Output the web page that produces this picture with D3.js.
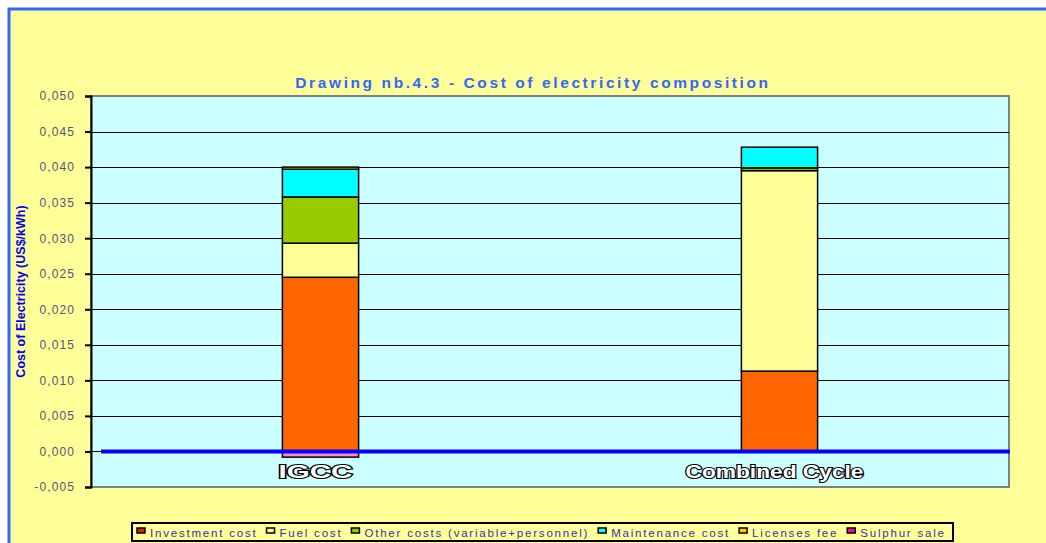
<!DOCTYPE html>
<html>
<head>
<meta charset="utf-8">
<script src="https://cdn.jsdelivr.net/npm/d3@7"></script>
<style>
  body { margin: 0; background: #fff; }
  svg { display: block; font-family: "Liberation Sans", Arial, sans-serif; }
</style>
</head>
<body>
<svg id="chart" width="1046" height="543"></svg>
<script>
// chart data
const categories = ["IGCC", "Combined Cycle"];
const seriesNames = ["Investment cost", "Fuel cost", "Other costs (variable+personnel)",
                     "Maintenance cost", "Licenses fee", "Sulphur sale"];
const investment  = [0.0245, 0.0113];
const fuel        = [0.0048, 0.0282];
const other       = [0.0065, 0.0004];
const maintenance = [0.0039, 0.0029];
const licenses    = [0.0003, 0.0000];
const sulphur     = [-0.0008, 0.0000];
const yTicks = [-0.005, 0, 0.005, 0.01, 0.015, 0.02, 0.025, 0.03, 0.035, 0.04, 0.045, 0.05];

const colors = ["#FF6600", "#FFFF99", "#99CC00", "#00FFFF", "#FFCC00", "#FF88CC"];
const legendColors = ["#DD2200", "#FFFF99", "#99CC00", "#00FFFF", "#FFCC00", "#EE1199"];

const plot = {left: 91, right: 1009, top: 96, bottom: 487};

const svg = d3.select("#chart");

// yellow page with blue frame
svg.append("rect").attr("x", 9).attr("y", 9).attr("width", 1046).attr("height", 543)
    .attr("fill", "#FFFF99");
svg.append("path").attr("d", "M 9,543 V 9 H 1046")
    .attr("fill", "none").attr("stroke", "#3366FF").attr("stroke-width", 3);

// title
svg.append("text")
    .attr("x", 533).attr("y", 88)
    .attr("text-anchor", "middle")
    .attr("font-size", 15.5).attr("font-weight", "bold")
    .attr("letter-spacing", 2.6)
    .attr("fill", "#3366FF")
    .text("Drawing nb.4.3 - Cost of electricity composition");

const y = d3.scaleLinear().domain([-0.005, 0.05]).range([plot.bottom, plot.top]);
const x = d3.scaleBand().domain(categories).range([plot.left, plot.right]).padding(0);
const barW = x.bandwidth() * 0.166;

// plot background
svg.append("rect")
    .attr("x", plot.left).attr("y", plot.top)
    .attr("width", plot.right - plot.left).attr("height", plot.bottom - plot.top)
    .attr("fill", "#CCFFFF").attr("stroke", "#808080").attr("stroke-width", 2);

// gridlines
svg.append("g").selectAll("line")
    .data(yTicks.filter(t => t > -0.005 && t < 0.05))
    .join("line")
    .attr("x1", plot.left).attr("x2", plot.right)
    .attr("y1", d => Math.round(y(d)) + 0.5).attr("y2", d => Math.round(y(d)) + 0.5)
    .attr("stroke", "#000").attr("stroke-width", 1);

// y axis
const fmt = d => d3.format(".3f")(d).replace(".", ",").replace("−", "-");
const yAxis = svg.append("g")
    .attr("transform", `translate(${plot.left},0)`)
    .call(d3.axisLeft(y).tickValues(yTicks).tickSize(6).tickPadding(10).tickFormat(fmt));
yAxis.select(".domain").attr("stroke", "#000").attr("stroke-width", 2);
yAxis.selectAll(".tick line").attr("stroke", "#000").attr("stroke-width", 2);
yAxis.selectAll(".tick text")
    .attr("font-size", 12).attr("letter-spacing", 1.1)
    .attr("fill", "#555577").attr("font-family", "Liberation Sans, Arial, sans-serif");

// y axis title
svg.append("text")
    .attr("transform", `translate(25,${(plot.top + plot.bottom) / 2}) rotate(-90)`)
    .attr("text-anchor", "middle")
    .attr("font-size", 12.5).attr("font-weight", "bold")
    .attr("fill", "#0000FF")
    .text("Cost of Electricity (US$/kWh)");

// stacked bars
const table = categories.map((c, i) => ({
    cat: c,
    s0: investment[i], s1: fuel[i], s2: other[i],
    s3: maintenance[i], s4: licenses[i], s5: sulphur[i]
}));
const keys = ["s0", "s1", "s2", "s3", "s4", "s5"];
const stacked = d3.stack().keys(keys).offset(d3.stackOffsetDiverging)(table);

svg.append("g").selectAll("g")
    .data(stacked)
    .join("g")
    .attr("fill", (d, i) => colors[i])
    .selectAll("rect")
    .data(d => d.filter(p => p[1] !== p[0]))
    .join("rect")
    .attr("x", d => x(d.data.cat) + x.bandwidth() / 2 - barW / 2)
    .attr("width", barW)
    .attr("y", d => y(Math.max(d[0], d[1])))
    .attr("height", d => Math.abs(y(d[0]) - y(d[1])))
    .attr("stroke", "#000").attr("stroke-width", 1.5);

// zero line
svg.append("line")
    .attr("x1", plot.left + 10).attr("x2", plot.right + 1)
    .attr("y1", y(0)).attr("y2", y(0))
    .attr("stroke", "#0000FF").attr("stroke-width", 4);

// category labels (outlined)
const catWidths = {"IGCC": 74, "Combined Cycle": 178};
svg.append("g").selectAll("text")
    .data(categories)
    .join("text")
    .attr("x", d => x(d) + x.bandwidth() / 2 - 5)
    .attr("y", 478)
    .attr("text-anchor", "middle")
    .attr("font-size", 19).attr("font-weight", "bold")
    .attr("textLength", d => catWidths[d]).attr("lengthAdjust", "spacingAndGlyphs")
    .attr("fill", "#fff").attr("stroke", "#000").attr("stroke-width", 2.2)
    .attr("paint-order", "stroke")
    .text(d => d);

// legend
const legend = svg.append("g");
legend.append("rect")
    .attr("x", 132).attr("y", 523).attr("width", 821).attr("height", 18)
    .attr("fill", "#FFFF99").attr("stroke", "#000").attr("stroke-width", 2);
let lx = 137;
seriesNames.forEach((name, i) => {
    legend.append("rect")
        .attr("x", lx).attr("y", 528).attr("width", 8).attr("height", 5)
        .attr("fill", legendColors[i]).attr("stroke", "#000").attr("stroke-width", 1.5);
    const t = legend.append("text")
        .attr("x", lx + 13).attr("y", 537)
        .attr("font-size", 11.5).attr("letter-spacing", 1.8)
        .attr("fill", "#3333AA")
        .style("white-space", "pre")
        .text(name);
    lx += 13 + t.node().getComputedTextLength() + 9;
});
</script>
</body>
</html>
